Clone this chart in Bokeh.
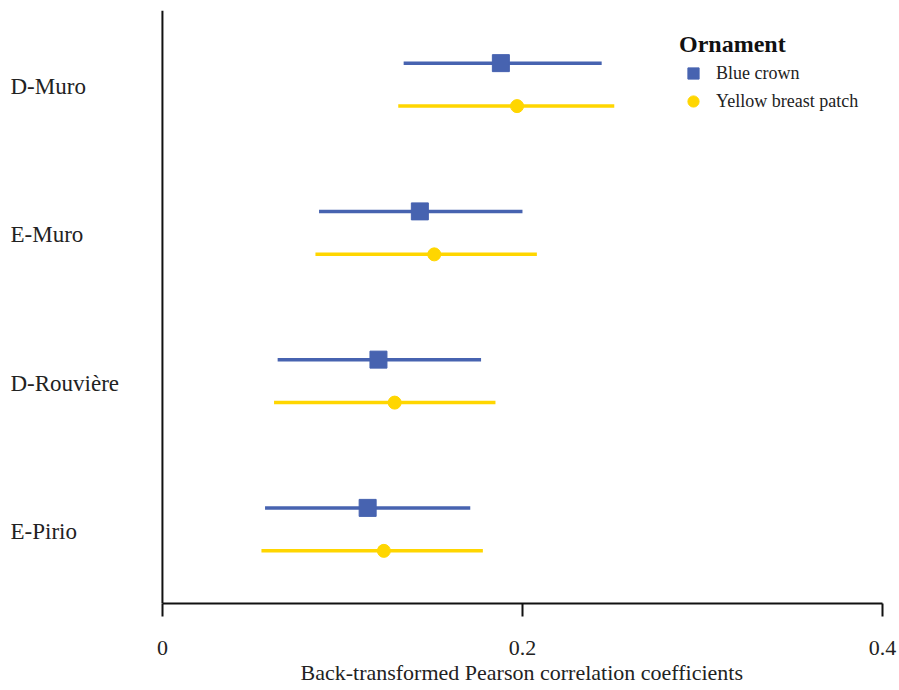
from bokeh.plotting import figure
from bokeh.models import (ColumnDataSource, FactorRange, Range1d, FixedTicker, Legend,
                          LegendItem, Span, Title)
from bokeh.core.properties import value
from bokeh.transform import dodge
from bokeh.embed import file_html
from bokeh.resources import INLINE

# ---- data ----
populations = ["D-Muro", "E-Muro", "D-Rouvière", "E-Pirio"]
blue_est = [0.188, 0.143, 0.120, 0.114]
blue_lo = [0.134, 0.087, 0.064, 0.057]
blue_hi = [0.244, 0.200, 0.177, 0.171]
yellow_est = [0.197, 0.151, 0.129, 0.123]
yellow_lo = [0.131, 0.085, 0.062, 0.055]
yellow_hi = [0.251, 0.208, 0.185, 0.178]
x_ticks = [0, 0.2, 0.4]
series_names = ["Blue crown", "Yellow breast patch"]
x_title = "Back-transformed Pearson correlation coefficients"

BLUE = "#4763B0"
YELLOW = "#FFD600"
FONT = "Liberation Serif"
TXT = "#222222"

# x range extended to the left so the row labels sit inside the frame
X_START = -0.0844
X_END = 0.4

blue_src = ColumnDataSource(dict(pop=populations, est=blue_est, lo=blue_lo, hi=blue_hi))
yel_src = ColumnDataSource(dict(pop=populations, est=yellow_est, lo=yellow_lo, hi=yellow_hi))
lab_src = ColumnDataSource(dict(pop=populations, x=[X_START] * len(populations)))

p = figure(width=897, height=688, output_backend="svg", toolbar_location=None,
           x_range=Range1d(X_START, X_END),
           y_range=FactorRange(*reversed(populations), range_padding=0),
           min_border_left=10, min_border_top=10, min_border_right=15, min_border_bottom=85)
p.outline_line_color = None
p.xgrid.visible = False
p.ygrid.visible = False
p.background_fill_color = "white"

off = 0.145
b_seg = p.segment(x0="lo", x1="hi", y0=dodge("pop", off, range=p.y_range),
                  y1=dodge("pop", off, range=p.y_range), source=blue_src,
                  line_color=BLUE, line_width=3.5)
b_pt = p.scatter(x="est", y=dodge("pop", off, range=p.y_range), source=blue_src,
                 marker="square", size=17, fill_color=BLUE, line_color=BLUE)
y_seg = p.segment(x0="lo", x1="hi", y0=dodge("pop", -off, range=p.y_range),
                  y1=dodge("pop", -off, range=p.y_range), source=yel_src,
                  line_color=YELLOW, line_width=3.5)
y_pt = p.scatter(x="est", y=dodge("pop", -off, range=p.y_range), source=yel_src,
                 marker="circle", size=13, fill_color=YELLOW, line_color=YELLOW)

# row labels
p.text(x="x", y="pop", text="pop", source=lab_src, text_align="left",
       text_baseline="middle", y_offset=2, text_font=value(FONT),
       text_font_size="23px", text_color=TXT)

# vertical axis line at x = 0
p.add_layout(Span(location=0, dimension="height", line_color="#111111", line_width=2))

# x axis
xa = p.xaxis[0]
xa.bounds = (0, 0.4)
xa.ticker = FixedTicker(ticks=x_ticks)
xa.minor_tick_line_color = None
xa.major_tick_in = 0
xa.major_tick_out = 13
xa.major_tick_line_width = 2
xa.axis_line_width = 2
xa.axis_line_color = "#111111"
xa.major_tick_line_color = "#111111"
xa.major_label_text_font = FONT
xa.major_label_text_font_size = "22px"
xa.major_label_text_color = TXT
xa.major_label_standoff = 24

# axis title under the 0 - 0.4 part of the axis
p.add_layout(Title(text=x_title, align="left", offset=290, standoff=0,
                   text_font=FONT, text_font_style="normal", text_font_size="22px",
                   text_color=TXT), "below")

p.yaxis.visible = False

legend = Legend(items=[LegendItem(label=series_names[0], renderers=[b_pt]),
                       LegendItem(label=series_names[1], renderers=[y_pt])],
                location=(669, 488), title="Ornament",
                title_text_font=FONT, title_text_font_style="bold", title_text_font_size="24px",
                title_text_color="#111111", title_standoff=1,
                label_text_font=FONT, label_text_font_size="18px", label_text_color=TXT,
                glyph_width=28, glyph_height=28, label_standoff=9, spacing=0,
                padding=0, margin=0, border_line_color=None, background_fill_alpha=0)
p.add_layout(legend)

open("out.html", "w").write(file_html(p, INLINE))
